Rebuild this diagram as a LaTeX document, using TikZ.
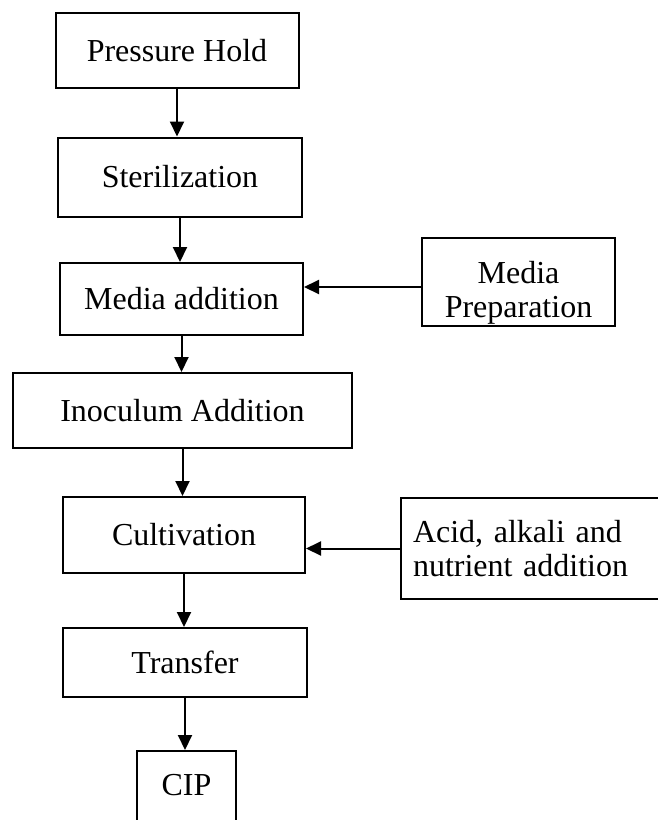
\documentclass[tikz,border=0pt]{standalone}
\usepackage{fontspec}
\setmainfont{Liberation Serif}
\usetikzlibrary{arrows.meta,positioning}
\tikzset{
  box/.style={rectangle, draw=black, line width=2pt, fill=white,
    align=center, inner sep=0pt, font=\fontsize{32}{34}\selectfont},
  ar/.style={-{Triangle[length=15pt,width=14pt]}, line width=2pt},
}

\begin{document}
\begin{tikzpicture}[x=1pt,y=-1pt]
\clip (0,0) rectangle (658,820);
\fill[white] (0,0) rectangle (658,820);

% ===================== MAIN LINE =====================
\node[box, minimum width=243, minimum height=75] (hold)  at (177,50.5)  {Pressure Hold};
\node[box, minimum width=244, minimum height=79] (steril) at (180,177)  {Sterilization};
\node[box, minimum width=243, minimum height=72] (media) at (181.5,299) {Media addition};
\node[box, minimum width=339, minimum height=75] (inoc)  at (182.5,410.5) {Inoculum Addition};
\node[box, minimum width=242, minimum height=76] (cult)  at (184,535)   {Cultivation};
\node[box, minimum width=244, minimum height=69] (trans) at (185,662.5) {Transfer};
\node[box, minimum width=99,  minimum height=80, text depth=12pt] (cip) at (186.5,791) {CIP};

% ===================== SIDE FEEDS =====================
\node[box, minimum width=193, minimum height=88] (prep) at (518.5,282) {\rule{0pt}{44pt}Media\\Preparation};
\node[box, anchor=north west, minimum height=101, text width=250, inner sep=12pt,
  align=left] (acid) at (400,497) {Acid, alkali and\\nutrient addition};

\draw[ar] (hold.south)   -- (hold.south |- steril.north);
\draw[ar] (steril.south) -- (steril.south |- media.north);
\draw[ar] (media.south)  -- (media.south |- inoc.north);
\draw[ar] (inoc.south)   -- (inoc.south |- cult.north);
\draw[ar] (cult.south)   -- (cult.south |- trans.north);
\draw[ar] (trans.south)  -- (trans.south |- cip.north);

\draw[ar] ([yshift=-5pt]prep.west) -- ([yshift=-5pt]prep.west -| media.east);
\draw[ar] (acid.west) -- (acid.west -| cult.east);

\end{tikzpicture}
\end{document}
